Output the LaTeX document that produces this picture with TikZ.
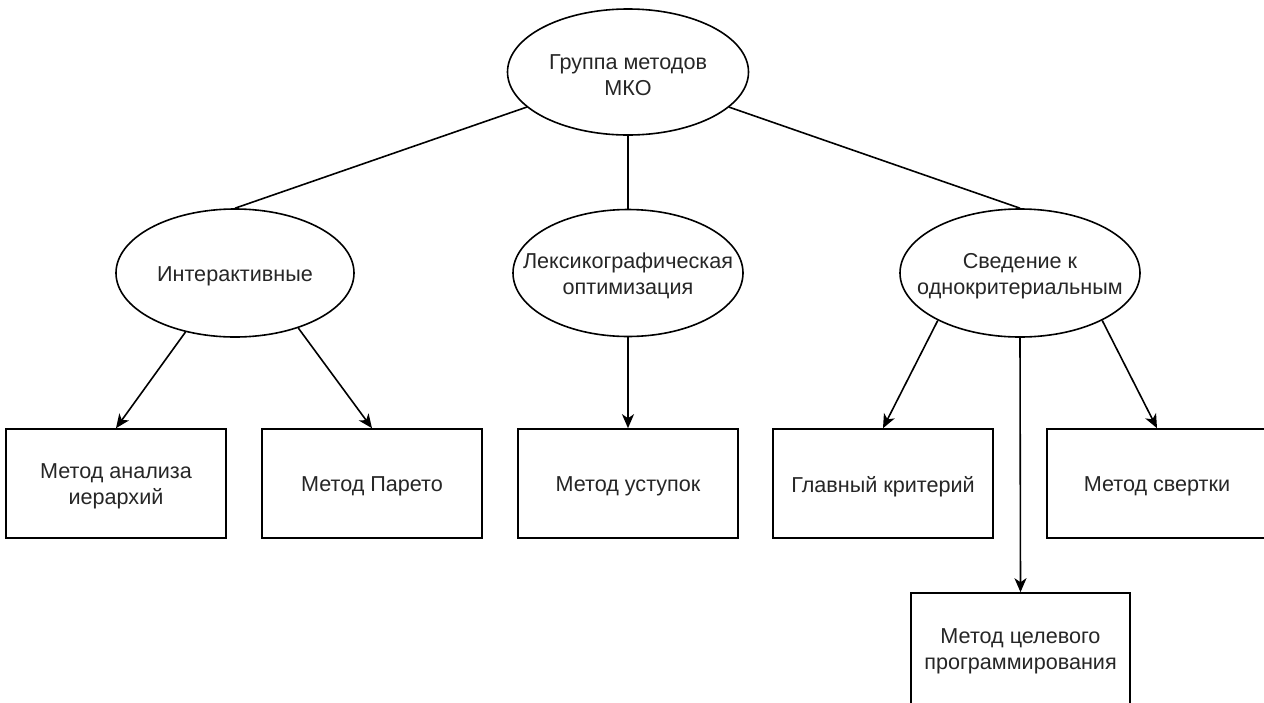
\documentclass[tikz,border=0pt]{standalone}
\usepackage{fontspec}
\setmainfont{Liberation Sans}
\usetikzlibrary{shapes.geometric,arrows.meta}

\tikzset{
  base/.style={draw=black, line width=1.6pt, fill=white},
  oval/.style={base, ellipse, inner sep=0pt},
  box/.style={base, rectangle, minimum width=220pt, minimum height=109pt, inner sep=0pt},
  inlabel/.style={align=center, text=black!85, yshift=-3pt,
    font=\fontsize{21.6}{25.5}\selectfont},
  link/.style={draw=black, line width=1.6pt},
  arrow/.style={link, -{Stealth[length=14pt, width=12pt, inset=4pt]}}
}

\begin{document}
\begin{tikzpicture}[x=1pt, y=-1pt]
  \useasboundingbox (0,0) rectangle (1264,702);

  % root and category ellipses
  \node[oval, minimum width=241pt, minimum height=126pt,
        label={[inlabel]center:Группа методов\\МКО}] (root) at (628,72) {};
  \node[oval, minimum width=238pt, minimum height=128pt,
        label={[inlabel]center:Интерактивные}] (inter) at (235,273) {};
  \node[oval, minimum width=230pt, minimum height=127pt,
        label={[inlabel]center:Лексикографическая\\оптимизация}] (lex) at (628,273) {};
  \node[oval, minimum width=240pt, minimum height=128pt,
        label={[inlabel]center:Сведение к\\однокритериальным}] (conv) at (1020,273) {};

  % method boxes
  \node[box, label={[inlabel]center:Метод анализа\\иерархий}] (ahp) at (116,483.5) {};
  \node[box, label={[inlabel]center:Метод Парето}] (pareto) at (372,483.5) {};
  \node[box, label={[inlabel]center:Метод уступок}] (conc) at (628,483.5) {};
  \node[box, label={[inlabel]center:Главный критерий}] (main) at (883,483.5) {};
  \node[box, label={[inlabel]center:Метод свертки}] (fold) at (1157,483.5) {};
  \node[box, minimum width=219pt, minimum height=113pt,
        label={[inlabel, yshift=1pt]center:Метод целевого\\программирования}] (goal) at (1020.5,649.5) {};

  % root to categories
  \draw[link] (root) -- (inter.north);
  \draw[link] (root.south) -- (lex.north);
  \draw[link] (root) -- (conv.north);

  % categories to methods
  \draw[arrow] (inter.230) -- (ahp.north);
  \draw[arrow] (inter.319) -- (pareto.north);
  \draw[arrow] (lex.south) -- (conc.north);
  \draw[arrow] (conv.210) -- (main.north);
  \draw[arrow] (conv.south) -- (goal.north);
  \draw[arrow] (conv.330) -- (fold.north);
\end{tikzpicture}
\end{document}
